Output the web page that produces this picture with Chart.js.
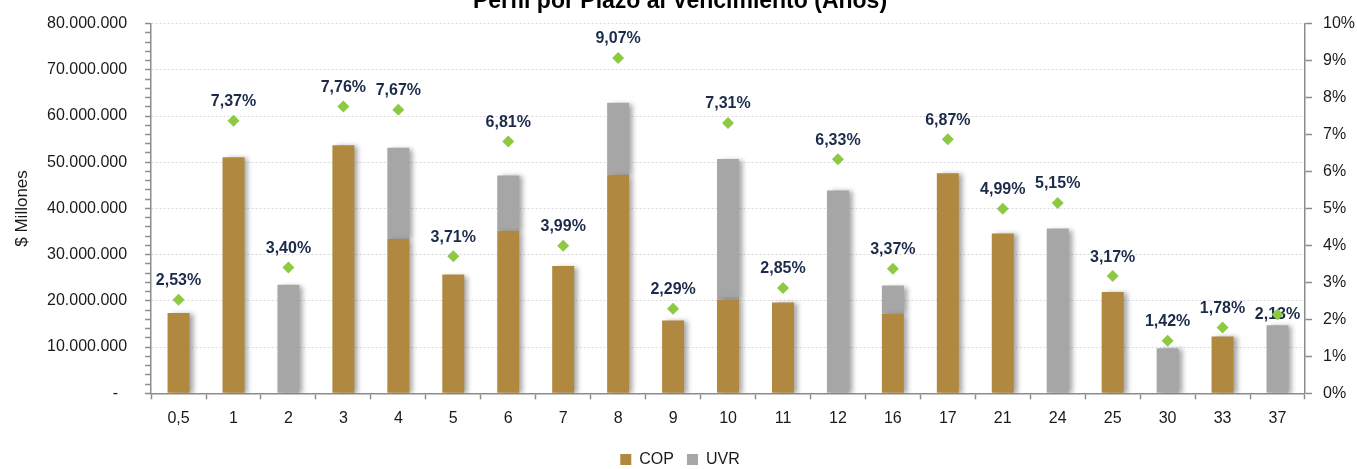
<!DOCTYPE html>
<html>
<head>
<meta charset="utf-8">
<script src="https://cdn.jsdelivr.net/npm/chart.js@4/dist/chart.umd.min.js"></script>
<style>
  html, body { margin: 0; padding: 0; background: #ffffff; overflow: hidden; width: 1357px; height: 469px; }
  #wrap { position: absolute; left: 0; top: -4px; width: 1357px; height: 473px; }
</style>
</head>
<body>
<div id="wrap"><canvas id="c"></canvas></div>
<script>
// ---- data ----
const categories = ['0,5','1','2','3','4','5','6','7','8','9','10','11','12','16','17','21','24','25','30','33','37'];
const copValues = [17350000, 51060000, 0, 53700000, 33400000, 25700000, 35200000, 27550000, 47300000, 15770000, 20300000, 19670000, 0, 17200000, 47600000, 34600000, 0, 21900000, 0, 12300000, 0];
const uvrValues = [0, 0, 23500000, 0, 19750000, 0, 11950000, 0, 15550000, 0, 30400000, 0, 43900000, 6100000, 0, 0, 35650000, 0, 9770000, 0, 14750000];
const rateValues = [2.53, 7.37, 3.40, 7.76, 7.67, 3.71, 6.81, 3.99, 9.07, 2.29, 7.31, 2.85, 6.33, 3.37, 6.87, 4.99, 5.15, 3.17, 1.42, 1.78, 2.13];
const rateLabelPlacement = ['above','above','above','above','above','above','above','above','above','above','above','above','above','above','above','above','above','above','above','above','center'];
const seriesNames = ['COP', 'UVR'];
const titleText = 'Perfil por Plazo al Vencimiento (Años)';
const leftAxisTitle = '$ Millones';

const FONT = "'Liberation Sans', Arial, sans-serif";
const fmtThousands = v => String(Math.round(v)).replace(/\B(?=(\d{3})+(?!\d))/g, '.');
const fmtRate = v => v.toFixed(2).replace('.', ',') + '%';

const shadowPlugin = {
  id: 'barShadow',
  beforeDatasetDraw(chart, args) {
    const ds = chart.data.datasets[args.index];
    if (ds.type === 'bar') {
      const ctx = chart.ctx;
      ctx.save();
      ctx.shadowColor = 'rgba(0,0,0,0.35)';
      ctx.shadowBlur = 5;
      ctx.shadowOffsetX = 4;
      ctx.shadowOffsetY = 1;
    }
    if (ds.type === 'line') {
      const ctx = chart.ctx;
      const meta = chart.getDatasetMeta(args.index);
      ctx.save();
      ctx.font = "bold 16px " + FONT;
      ctx.fillStyle = '#1C2B4A';
      ctx.textAlign = 'center';
      ctx.textBaseline = 'middle';
      meta.data.forEach((pt, i) => {
        const dy = rateLabelPlacement[i] === 'center' ? 0 : -19;
        ctx.fillText(fmtRate(ds.data[i]), pt.x, pt.y + dy);
      });
      ctx.restore();
    }
  },
  afterDatasetDraw(chart, args) {
    const ds = chart.data.datasets[args.index];
    if (ds.type === 'bar') chart.ctx.restore();
  }
};

function build() {
  new Chart(document.getElementById('c'), {
    data: {
      labels: categories,
      datasets: [
        {
          type: 'line', label: 'Tasa', data: rateValues, yAxisID: 'y1', order: 0,
          showLine: false, pointStyle: 'rectRot', pointRadius: 6, pointHoverRadius: 6,
          backgroundColor: '#8DC943', borderColor: '#8DC943', borderWidth: 0
        },
        {
          type: 'bar', label: seriesNames[0], data: copValues, yAxisID: 'y', order: 1,
          backgroundColor: '#B08840', borderWidth: 0,
          barPercentage: 0.4, categoryPercentage: 1
        },
        {
          type: 'bar', label: seriesNames[1], data: uvrValues, yAxisID: 'y', order: 1,
          backgroundColor: '#A6A6A6', borderWidth: 0,
          barPercentage: 0.4, categoryPercentage: 1
        }
      ]
    },
    options: {
      responsive: true,
      maintainAspectRatio: false,
      animation: false,
      layout: { padding: { left: -6, right: -9, top: 0, bottom: -8.5 } },
      plugins: {
        tooltip: { enabled: false },
        title: {
          display: true, text: titleText, color: '#000',
          font: { family: FONT, size: 23, weight: 'bold' },
          padding: { top: -13, bottom: 8 }
        },
        legend: {
          position: 'bottom',
          labels: {
            filter: item => item.datasetIndex !== 0,
            boxWidth: 11, boxHeight: 11, padding: 13,
            color: '#1a1a1a', font: { family: FONT, size: 16 }
          }
        }
      },
      scales: {
        x: {
          stacked: true,
          grid: { display: true, offset: true, drawOnChartArea: false, tickLength: 6, tickColor: '#8c8c8c', tickWidth: 1.5 },
          border: { display: true, color: '#8c8c8c', width: 1.5 },
          ticks: { color: '#1a1a1a', font: { family: FONT, size: 16 }, padding: 10, maxRotation: 0, autoSkip: false }
        },
        y: {
          stacked: true, position: 'left', min: 0, max: 80000000,
          ticks: {
            stepSize: 2000000, autoSkip: false, color: '#1a1a1a', padding: 18,
            font: { family: FONT, size: 16 },
            callback: v => (v % 10000000 === 0) ? (v === 0 ? '-  ' : fmtThousands(v)) : ''
          },
          grid: {
            color: c => (c.tick && c.tick.value % 10000000 === 0 && c.tick.value !== 0) ? '#d9d9d9' : 'rgba(0,0,0,0)',
            tickColor: '#8c8c8c', tickLength: 6, tickWidth: 1.5, lineWidth: 1
          },
          border: { display: true, color: '#8c8c8c', width: 1.5, dash: [2, 2] },
          title: { display: true, text: leftAxisTitle, color: '#1a1a1a', font: { family: FONT, size: 17 }, padding: { top: 18, bottom: -3.4 } }
        },
        y1: {
          position: 'right', min: 0, max: 10,
          ticks: { stepSize: 1, color: '#1a1a1a', padding: 11, font: { family: FONT, size: 16 }, callback: v => v + '%' },
          grid: { drawOnChartArea: false, tickColor: '#8c8c8c', tickLength: 7, tickWidth: 1.5 },
          border: { display: true, color: '#8c8c8c', width: 1.5 }
        }
      }
    },
    plugins: [shadowPlugin]
  });
}

const fontLoads = (document.fonts && document.fonts.load)
  ? Promise.all([
      document.fonts.load("16px 'Liberation Sans'"),
      document.fonts.load("bold 16px 'Liberation Sans'"),
      document.fonts.load("bold 23px 'Liberation Sans'")
    ]).catch(() => null)
  : Promise.resolve();
fontLoads.then(build, build);
</script>
</body>
</html>
